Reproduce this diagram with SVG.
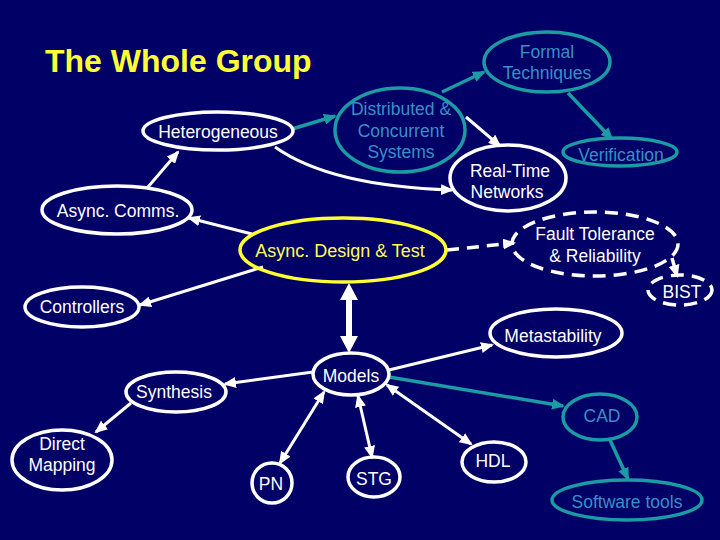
<svg xmlns="http://www.w3.org/2000/svg" width="720" height="540" viewBox="0 0 720 540">
<style>
text{font-family:"Liberation Sans",Arial,sans-serif;font-size:17.5px;text-anchor:middle}
.w ellipse{fill:none;stroke:#fff;stroke-width:3.5}
.w text{fill:#fff}
.t ellipse{fill:none;stroke:#1b9ba3;stroke-width:3.5}
.t text{fill:#3a8fc6}
.d ellipse{fill:none;stroke:#fff;stroke-width:3.5;stroke-dasharray:13 8}
.d text{fill:#fff}
.y ellipse{fill:none;stroke:#ffff33;stroke-width:3.5}
.y text{fill:#ffff55;font-size:18px}
.cw{fill:none;stroke:#fff;stroke-width:3;marker-end:url(#aw)}
.ct{fill:none;stroke:#1b9ba3;stroke-width:3.5;marker-end:url(#at)}
.cd{fill:none;stroke:#fff;stroke-width:3.5;stroke-dasharray:12 8;marker-end:url(#aw)}
.bi{marker-start:url(#aw)}
</style>
<defs>
<marker id="aw" markerUnits="userSpaceOnUse" markerWidth="13" markerHeight="11" refX="11" refY="5.5" orient="auto-start-reverse"><path d="M0,0 L13,5.5 L0,11 Z" fill="#fff"/></marker>
<marker id="at" markerUnits="userSpaceOnUse" markerWidth="13" markerHeight="11" refX="11" refY="5.5" orient="auto-start-reverse"><path d="M0,0 L13,5.5 L0,11 Z" fill="#1b9ba3"/></marker>
</defs>
<rect width="720" height="540" fill="#000066"/>
<text x="45" y="72" style="font-size:32px;font-weight:bold;fill:#ffff33;text-anchor:start">The Whole Group</text>

<g id="connectors">
<path class="ct" d="M292,129 L335,116"/>
<path class="ct" d="M442,92 L484,72"/>
<path class="ct" d="M568,93 L612,139"/>
<path class="cw" d="M466,117 L500,146"/>
<path class="cw" d="M275,147 Q330,186 452,190"/>
<path class="cw" d="M148,187 L178,152"/>
<path class="cw" d="M252,234 L189,218"/>
<path class="cw" d="M263,267 L140,305"/>
<path class="cd" d="M447,250 L514,243"/>
<path class="cd" d="M672,258 L677,276"/>
<path d="M349,283 L358,300 L352,300 L352,336 L358,336 L349,353 L340,336 L346,336 L346,300 L340,300 Z" fill="#fff"/>
<path class="cw" d="M389,370 L492,345"/>
<path class="ct" d="M389,377 L563,406"/>
<path class="cw" d="M313,372 L225,384"/>
<path class="cw" d="M131,403 L96,432"/>
<path class="cw bi" d="M324,392 L280,463"/>
<path class="cw bi" d="M358,396 L372,457"/>
<path class="cw bi" d="M387,385 L471,444"/>
<path class="ct" d="M610,440 L628,479"/>
</g>

<g id="formal" class="t"><ellipse cx="547" cy="62" rx="63" ry="30"/><text x="547" y="58">Formal</text><text x="547" y="79">Techniques</text></g>
<g id="distributed" class="t"><ellipse cx="400" cy="130" rx="65" ry="42"/><text x="401" y="115">Distributed &amp;</text><text x="401" y="137">Concurrent</text><text x="401" y="158">Systems</text></g>
<g id="heterogeneous" class="w"><ellipse cx="218" cy="131" rx="75" ry="19"/><text x="218" y="138">Heterogeneous</text></g>
<g id="realtime" class="w"><ellipse cx="508" cy="178" rx="58" ry="33"/><text x="510" y="177">Real-Time</text><text x="507" y="198">Networks</text></g>
<g id="verification" class="t"><ellipse cx="620" cy="152" rx="57" ry="14"/><text x="621" y="161">Verification</text></g>
<g id="asynccomms" class="w"><ellipse cx="117" cy="210" rx="75" ry="24"/><text x="118" y="217">Async. Comms.</text></g>
<g id="asyncdesign" class="y"><ellipse cx="343" cy="250" rx="103" ry="32"/><text x="340" y="257">Async. Design &amp; Test</text></g>
<g id="fault" class="d"><ellipse cx="595" cy="244" rx="83" ry="32"/><text x="595" y="240">Fault Tolerance</text><text x="595" y="262">&amp; Reliability</text></g>
<g id="bist" class="d"><ellipse cx="680" cy="290" rx="32" ry="15"/><text x="682" y="298">BIST</text></g>
<g id="controllers" class="w"><ellipse cx="82" cy="307" rx="57" ry="20"/><text x="82" y="313">Controllers</text></g>
<g id="metastability" class="w"><ellipse cx="556" cy="333" rx="66" ry="24"/><text x="553" y="342">Metastability</text></g>
<g id="models" class="w"><ellipse cx="351" cy="374" rx="38" ry="21"/><text x="351" y="382">Models</text></g>
<g id="synthesis" class="w"><ellipse cx="176" cy="392" rx="50" ry="20"/><text x="174" y="398">Synthesis</text></g>
<g id="cad" class="t"><ellipse cx="600" cy="417" rx="37" ry="23"/><text x="602" y="422">CAD</text></g>
<g id="hdl" class="w"><ellipse cx="494" cy="462" rx="32" ry="20"/><text x="493" y="467">HDL</text></g>
<g id="software" class="t"><ellipse cx="627" cy="500" rx="75" ry="20"/><text x="627" y="508">Software tools</text></g>
<g id="pn" class="w"><ellipse cx="272" cy="483" rx="20" ry="20"/><text x="271" y="490">PN</text></g>
<g id="stg" class="w"><ellipse cx="374" cy="477" rx="26" ry="20"/><text x="374" y="485">STG</text></g>
<g id="direct" class="w"><ellipse cx="62" cy="460" rx="50" ry="30"/><text x="62" y="450">Direct</text><text x="62" y="471">Mapping</text></g>
</svg>
